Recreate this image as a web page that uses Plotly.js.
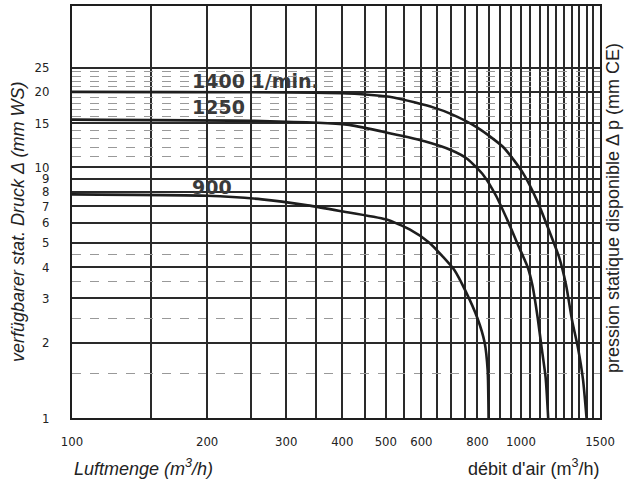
<!DOCTYPE html>
<html>
<head>
<meta charset="utf-8">
<script src="https://cdn.plot.ly/plotly-3.0.1.min.js"></script>
<style>
  html, body { margin: 0; padding: 0; background: #fff; }
  #chart { width: 632px; height: 479px; }
</style>
</head>
<body>
<div id="chart"></div>
<script>
// Fan curves: available static pressure (mm WS) vs air flow (m3/h)
const flow1400 = [100, 410, 520, 640, 700, 800, 915, 1010, 1085, 1155, 1215, 1260, 1300, 1340, 1375, 1400];
const press1400 = [20, 19.7, 19.0, 17.3, 16.3, 14.4, 12.0, 9.5, 7.4, 5.6, 4.4, 3.4, 2.45, 1.9, 1.42, 1.0];

const flow1250 = [100, 265, 410, 490, 610, 700, 760, 825, 880, 935, 985, 1035, 1060, 1090, 1110, 1135, 1150];
const press1250 = [15.5, 15.3, 14.8, 13.9, 12.7, 11.7, 10.8, 9.3, 7.7, 6.1, 4.9, 4.0, 3.4, 2.5, 1.95, 1.45, 1.0];

const flow900 = [100, 200, 265, 335, 395, 500, 565, 625, 670, 710, 750, 800, 830, 843, 847];
const press900 = [7.8, 7.7, 7.45, 7.05, 6.7, 6.2, 5.65, 5.0, 4.4, 3.9, 3.25, 2.5, 2.0, 1.55, 1.0];

const curveLabels = ["1400 1/min.", "1250", "900"];

const xTickVals = [100, 200, 300, 400, 500, 600, 800, 1000, 1500];
const xTickText = ["100", "200", "300", "400", "500", "600", "800", "1000", "1500"];
const xMinorVals = [150, 250, 350, 450, 550, 650, 700, 750, 850, 900, 950, 1050, 1100, 1150, 1200, 1250, 1300, 1350, 1400, 1450];

const yTickVals = [1, 2, 3, 4, 5, 6, 7, 8, 9, 10, 15, 20, 25];
const yTickText = ["1", "2", "3", "4", "5", "6", "7", "8", "9", "10", "15", "20", "25"];
const yMinorVals = [1.5, 2.5, 3.5, 4.5, 11, 12, 13, 14, 16, 17, 18, 19, 21, 22, 23, 24];

const lineStyle = { color: "#1e1e1e", width: 2.6, shape: "spline", smoothing: 0.6 };
const traces = [
  { x: flow1400, y: press1400, name: curveLabels[0] },
  { x: flow1250, y: press1250, name: curveLabels[1] },
  { x: flow900, y: press900, name: curveLabels[2] }
].map(t => Object.assign(t, { type: "scatter", mode: "lines", line: lineStyle, hoverinfo: "skip" }));

const tickFont = { family: "Liberation Sans Narrow, DejaVu Sans Condensed, Liberation Serif, serif", size: 13, color: "#222" };
const titleFont = { family: "Liberation Sans, Arial, sans-serif", size: 18, color: "#222" };
const curveFont = { family: "DejaVu Sans, sans-serif", size: 19, color: "#3a3a3a", weight: 700 };

const layout = {
  width: 632, height: 479,
  margin: { l: 72, r: 32, t: 6, b: 61 },
  paper_bgcolor: "#ffffff", plot_bgcolor: "#ffffff",
  showlegend: false,
  xaxis: {
    type: "log",
    range: [Math.log10(100), Math.log10(1500)],
    tickmode: "array", tickvals: xTickVals, ticktext: xTickText,
    ticks: "", ticklabelstandoff: 10, tickfont: tickFont,
    showgrid: true, gridcolor: "#2a2a2a", gridwidth: 2,
    minor: { tickmode: "array", tickvals: xMinorVals, showgrid: true, gridcolor: "#2a2a2a", gridwidth: 2, ticks: "" },
    showline: true, linecolor: "#1e1e1e", linewidth: 2, mirror: true,
    zeroline: false, fixedrange: true
  },
  yaxis: {
    type: "log",
    range: [0, Math.log10(44)],
    tickmode: "array", tickvals: yTickVals, ticktext: yTickText,
    ticks: "", ticklabelstandoff: 18, tickfont: tickFont,
    showgrid: true, gridcolor: "#2a2a2a", gridwidth: 2,
    minor: { tickmode: "array", tickvals: yMinorVals, showgrid: true, gridcolor: "#999999", gridwidth: 1, griddash: "dash", ticks: "" },
    showline: true, linecolor: "#1e1e1e", linewidth: 2, mirror: true,
    zeroline: false, fixedrange: true
  },
  annotations: [
    { text: curveLabels[0], xref: "paper", yref: "paper", x: 0.224, y: 0.818, xanchor: "left", yanchor: "middle", showarrow: false, font: curveFont },
    { text: curveLabels[1], xref: "paper", yref: "paper", x: 0.224, y: 0.755, xanchor: "left", yanchor: "middle", showarrow: false, font: curveFont },
    { text: curveLabels[2], xref: "paper", yref: "paper", x: 0.224, y: 0.561, xanchor: "left", yanchor: "middle", showarrow: false, font: curveFont },
    { text: "verfügbarer stat. Druck Δ (mm WS)", xref: "paper", yref: "paper", x: -0.102, y: 0.476, xanchor: "center", yanchor: "middle", textangle: -90, showarrow: false, font: Object.assign({}, titleFont, { style: "italic" }) },
    { text: "pression statique disponible Δ p (mm CE)", xref: "paper", yref: "paper", x: 1.025, y: 0.51, xanchor: "center", yanchor: "middle", textangle: -90, showarrow: false, font: titleFont },
    { text: "Luftmenge (m<sup>3</sup>/h)", xref: "paper", yref: "paper", x: 0.0, y: -0.119, xanchor: "left", yanchor: "middle", showarrow: false, font: Object.assign({}, titleFont, { style: "italic" }) },
    { text: "débit d'air (m<sup>3</sup>/h)", xref: "paper", yref: "paper", x: 1.004, y: -0.119, xanchor: "right", yanchor: "middle", showarrow: false, font: titleFont }
  ]
};

Plotly.newPlot("chart", traces, layout, { displayModeBar: false });
</script>
</body>
</html>
